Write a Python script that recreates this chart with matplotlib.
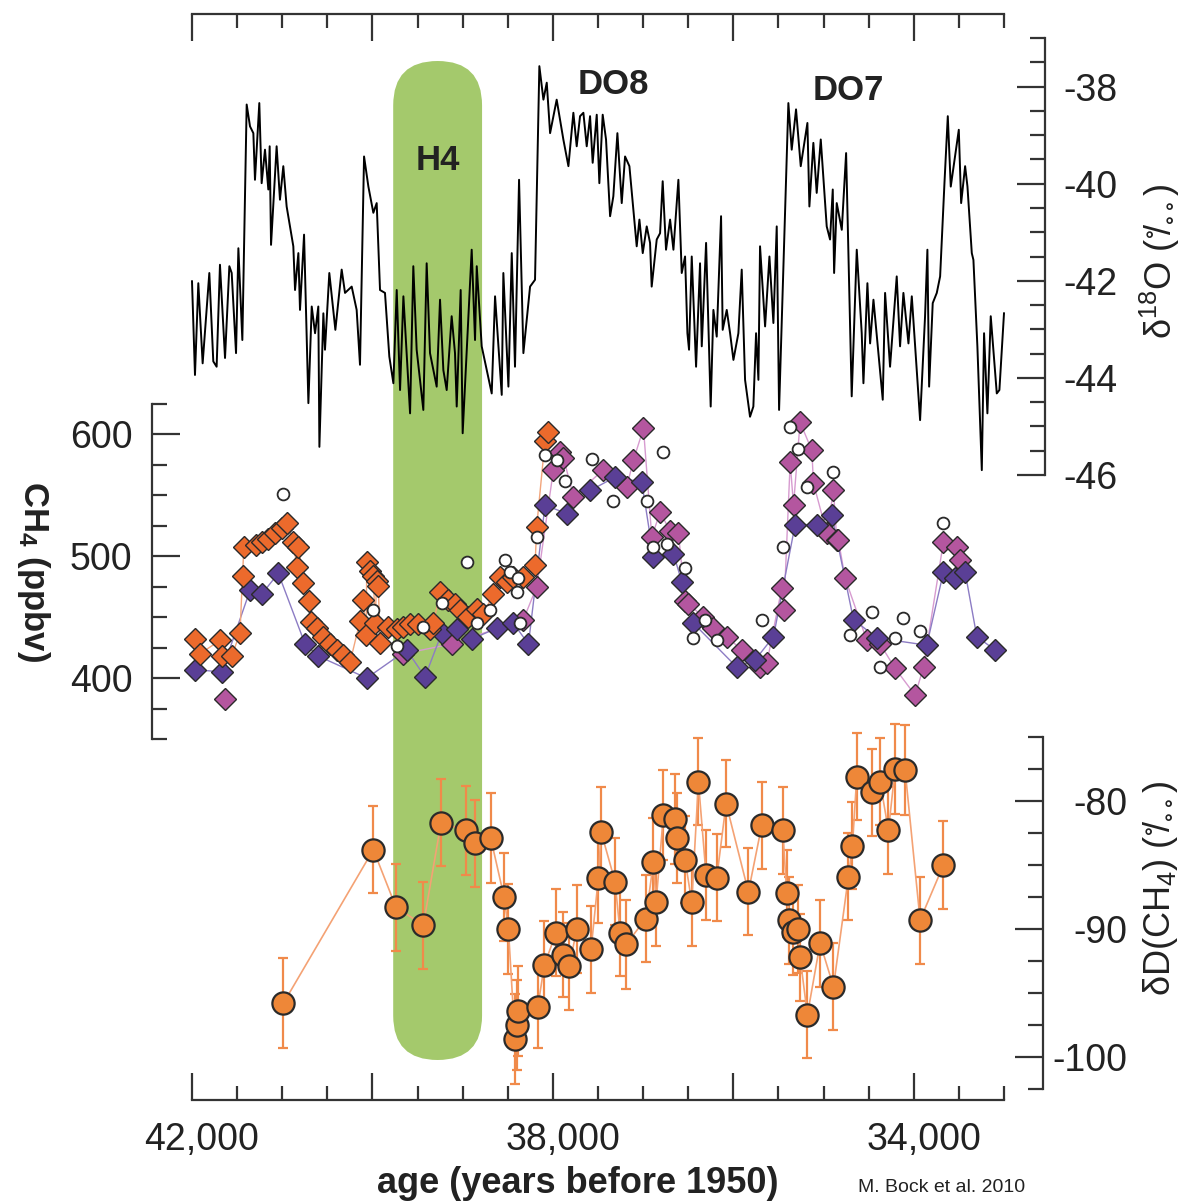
import numpy as np
import matplotlib
matplotlib.use('Agg')
import matplotlib.pyplot as plt
from matplotlib.patches import FancyBboxPatch
from matplotlib.ticker import MultipleLocator
from matplotlib.transforms import IdentityTransform, ScaledTranslation

plt.rcParams['font.family'] = ['Liberation Sans', 'DejaVu Sans']
plt.rcParams['mathtext.default'] = 'regular'
plt.rcParams['axes.unicode_minus'] = False

# ── NGRIP d18O (per mil) ──────────────────────────────────────────────────────
D18O_AGE = [
    42000, 41967, 41930, 41882, 41808, 41764, 41727, 41690, 41634, 41586, 41560, 41512, 41486, 41442,
    41394, 41357, 41320, 41302, 41254, 41228, 41191, 41154, 41139, 41124, 41062, 41025, 40988, 40951,
    40914, 40877, 40858, 40821, 40803, 40758, 40736, 40710, 40673, 40636, 40600, 40588, 40544, 40526,
    40478, 40411, 40341, 40304, 40230, 40175, 40138, 40093, 40045, 39990, 39953, 39916, 39861, 39813,
    39768, 39731, 39694, 39657, 39583, 39547, 39510, 39436, 39399, 39362, 39288, 39251, 39214, 39177,
    39122, 39085, 39066, 39022, 39000, 38900, 38863, 38844, 38789, 38678, 38641, 38567, 38549, 38493,
    38456, 38420, 38375, 38327, 38253, 38198, 38150, 38105, 38068, 38031, 37958, 37884, 37828, 37773, 37736,
    37699, 37662, 37625, 37588, 37559, 37514, 37485, 37448, 37411, 37366, 37330, 37285, 37237, 37200,
    37152, 37108, 37071, 37041, 37004, 36960, 36923, 36905, 36849, 36812, 36783, 36746, 36701, 36664,
    36609, 36572, 36535, 36509, 36491, 36461, 36413, 36369, 36350, 36302, 36251, 36221, 36184, 36136,
    36118, 36073, 36036, 35999, 35944, 35907, 35870, 35815, 35778, 35748, 35722, 35704, 35648, 35600,
    35556, 35519, 35493, 35390, 35353, 35305, 35253, 35179, 35157, 35113, 35076, 35031, 34965, 34928,
    34898, 34883, 34854, 34798, 34750, 34725, 34688, 34632, 34577, 34558, 34514, 34484, 34447, 34344,
    34318, 34263, 34189, 34152, 34115, 34059, 34022, 33930, 33875, 33849, 33830, 33790, 33745, 33708,
    33660, 33623, 33590, 33501, 33475, 33431, 33405, 33357, 33339, 33295, 33246, 33221, 33184, 33147,
    33080, 33051, 33000,
]
D18O_VAL = [
    -42.01, -43.94, -42.05, -43.70, -41.84, -43.66, -43.77, -41.67, -43.59, -41.70, -41.84, -43.49, -41.33, -43.22,
    -38.37, -38.82, -38.96, -39.92, -38.34, -39.99, -39.30, -40.12, -39.23, -41.26, -39.23, -40.33, -39.64, -40.47,
    -40.88, -41.29, -42.19, -41.43, -42.60, -41.05, -42.67, -44.52, -42.53, -43.08, -42.53, -45.42, -42.67, -43.42,
    -41.84, -43.01, -41.77, -42.25, -42.12, -42.60, -43.73, -39.44, -40.06, -40.60, -40.40, -42.19, -42.25, -43.56,
    -44.11, -42.19, -44.25, -42.32, -44.73, -41.70, -43.42, -44.66, -41.64, -43.49, -44.18, -42.39, -43.84, -44.25,
    -42.73, -43.49, -44.59, -42.19, -45.14, -41.36, -43.22, -41.70, -43.35, -44.32, -42.32, -44.35, -41.84, -44.18,
    -41.43, -43.77, -39.92, -43.49, -42.12, -41.98, -37.58, -38.27, -37.92, -38.96, -38.27, -39.09, -39.64, -38.54, -39.23,
    -38.61, -38.54, -39.23, -38.61, -39.57, -38.58, -39.99, -38.58, -39.09, -40.67, -40.26, -38.96, -40.40, -39.44,
    -39.64, -40.54, -41.29, -40.74, -41.43, -40.88, -41.22, -42.12, -41.15, -41.02, -39.95, -41.36, -40.74, -41.36,
    -39.92, -41.84, -41.50, -43.08, -43.42, -41.50, -43.77, -41.64, -43.35, -41.22, -44.59, -42.60, -43.15, -40.67,
    -43.01, -42.60, -43.08, -43.63, -43.08, -41.77, -44.04, -44.80, -44.59, -43.08, -44.04, -41.29, -42.94, -41.50,
    -42.87, -40.88, -44.66, -38.34, -39.30, -38.47, -39.64, -38.75, -40.47, -39.16, -40.19, -39.09, -40.88, -41.15,
    -40.12, -41.84, -40.40, -40.95, -39.37, -41.43, -44.38, -41.36, -43.08, -44.11, -42.05, -43.29, -42.39, -44.45,
    -42.25, -43.77, -41.91, -43.35, -42.25, -43.29, -42.32, -44.87, -42.73, -41.36, -44.18, -42.46, -42.25, -41.91,
    -39.99, -38.61, -40.06, -38.89, -40.40, -39.64, -40.06, -41.43, -41.57, -43.35, -45.90, -43.08, -44.73, -42.73,
    -44.32, -44.25, -42.67,
]

# ── CH4 (ppbv), four records ──────────────────────────────────────────────────
ORANGE_AGE = [41966, 41911, 41689, 41671, 41560, 41468, 41440, 41425, 41290, 41227,
              41153, 41080, 41006, 40950, 40876, 40839, 40821, 40765, 40700, 40680,
              40618, 40544, 40470, 40396, 40322, 40248, 40137, 40100, 40070, 40063,
              40026, 39990, 39971, 39953, 39935, 39916, 39823, 39731, 39657, 39583,
              39491, 39361, 39324, 39250, 39158, 39084, 39029, 38936, 38844, 38770,
              38659, 38585, 38511, 38438, 38327, 38197, 38180, 38087, 38050]
ORANGE_CH4 = [432, 420, 431, 418, 418, 437, 484, 508, 509, 512,
              514, 519, 523, 527, 512, 491, 508, 478, 463, 446,
              441, 434, 428, 423, 419, 413, 447, 464, 435, 495,
              488, 484, 445, 480, 476, 429, 442, 440, 442, 444,
              444, 440, 445, 471, 464, 461, 456, 450, 457, 453,
              469, 483, 479, 483, 483, 493, 524, 595, 602]

PURPLE_AGE = [41966, 41671, 41357, 41227, 41043, 40747, 40599, 40063, 39620, 39417,
              39232, 39066, 38900, 38622, 38438, 38271, 38087, 37846, 37587, 37310,
              37015, 36885, 36664, 36571, 36442, 35962, 35758, 35555, 35315, 35075,
              34909, 34668, 34410, 33856, 33671, 33543, 33431, 33301, 33098]
PURPLE_CH4 = [407, 405, 472, 469, 486, 428, 418, 400, 423, 401,
              437, 440, 432, 441, 445, 428, 542, 535, 554, 565,
              561, 499, 502, 479, 445, 409, 415, 434, 526, 526,
              534, 448, 433, 427, 487, 482, 487, 434, 423]

MAGENTA_AGE = [41634, 39657, 39121, 38327, 38179, 37994, 37920, 37883, 37772, 37440,
               37181, 37107, 36996, 36904, 36812, 36701, 36608, 36534, 36497, 36331,
               36220, 36073, 35906, 35703, 35629, 35463, 35440, 35370, 35333, 35260,
               35130, 35112, 34964, 34890, 34853, 34835, 34761, 34521, 34373, 34207,
               33985, 33892, 33671, 33523, 33486]
MAGENTA_CH4 = [383, 420, 428, 448, 475, 571, 586, 581, 549, 571,
               557, 579, 605, 516, 536, 521, 519, 463, 461, 450,
               441, 434, 423, 409, 412, 474, 456, 577, 542, 610,
               587, 560, 519, 554, 513, 513, 482, 431, 428, 408,
               386, 409, 512, 508, 497]

OPEN_AGE = [40987, 39990, 39731, 39435, 39232, 38955, 38844, 38696, 38530, 38475,
            38401, 38382, 38360, 38179, 38087, 37957, 37865, 37569, 37329, 36959,
            36885, 36775, 36738, 36534, 36442, 36313, 36183, 35684, 35444, 35370,
            35278, 35186, 34890, 34705, 34465, 34373, 34207, 34114, 33930, 33671]
OPEN_CH4 = [551, 456, 426, 442, 462, 495, 445, 456, 497, 487,
            471, 482, 445, 516, 583, 579, 562, 580, 545, 545,
            508, 586, 510, 490, 433, 448, 431, 448, 508, 606,
            588, 557, 569, 435, 454, 409, 433, 449, 439, 527]

# ── dD(CH4) (per mil) with 1-sigma errors ─────────────────────────────────────
DD_AGE = [40987, 39990, 39739, 39436, 39240, 38963, 38863, 38689, 38541, 38493,
          38420, 38401, 38382, 38168, 38094, 37965, 37884, 37817, 37736, 37577,
          37496, 37466, 37311, 37255, 37189, 36971, 36886, 36856, 36775, 36646,
          36620, 36535, 36461, 36387, 36302, 36184, 36080, 35833, 35685, 35452,
          35408, 35378, 35341, 35279, 35260, 35179, 35038, 34890, 34724, 34680,
          34632, 34466, 34373, 34281, 34207, 34096, 33930, 33671]
DD_VAL = [-95.8, -83.8, -88.3, -89.7, -81.7, -82.3, -83.3, -82.9, -87.5, -90.0,
          -98.6, -97.5, -96.4, -96.1, -92.8, -90.3, -92.0, -92.9, -90.0, -91.6,
          -86.0, -82.4, -86.3, -90.3, -91.2, -89.2, -84.8, -87.9, -81.1, -81.4,
          -82.9, -84.6, -87.9, -78.5, -85.8, -86.0, -80.2, -87.1, -81.9, -82.3,
          -87.2, -89.3, -90.2, -90.0, -92.2, -96.7, -91.1, -94.5, -85.9, -83.5,
          -78.1, -79.3, -78.5, -82.3, -77.5, -77.6, -89.3, -85.0]
DD_ERR = [3.5, 3.4, 3.4, 3.4, 3.4, 3.5, 3.4, 3.5, 3.4, 3.5,
          3.5, 3.5, 3.5, 3.2, 3.4, 3.4, 3.3, 3.4, 3.4, 3.4,
          3.5, 3.5, 3.4, 3.4, 3.5, 3.4, 3.5, 3.4, 3.5, 3.5,
          3.5, 3.4, 3.4, 3.4, 3.5, 3.4, 3.4, 3.4, 3.4, 3.4,
          3.4, 3.4, 3.4, 3.4, 3.4, 3.4, 3.4, 3.4, 3.4, 3.4,
          3.4, 3.4, 3.4, 3.4, 3.5, 3.5, 3.4, 3.4]

H4_SPAN = [39770, 38785]          # Heinrich event 4
AGE_TICKS = [42000, 40000, 38000, 36000, 34000]
AGE_LABELS = ['42,000', '', '38,000', '', '34,000']

# ── layout helpers (pixel boxes, y counted from the top) ──────────────────────
W, H = 1192, 1203
INK = '#333333'


def box(x0, y0, x1, y1):
    return [x0 / W, 1 - y1 / H, (x1 - x0) / W, (y1 - y0) / H]


def fx(x, y):
    return x / W, 1 - y / H


fig = plt.figure(figsize=(W / 100, H / 100), dpi=100, facecolor='white')

# frame carrying the shared age axis (top and bottom)
ax = fig.add_axes(box(192, 14, 1004, 1100))
ax.set_facecolor('none')
ax.set_xlim(42000, 33000)
ax.yaxis.set_visible(False)
for s in ('left', 'right'):
    ax.spines[s].set_visible(False)
for s in ('top', 'bottom'):
    ax.spines[s].set_linewidth(1.6)
    ax.spines[s].set_color(INK)
ax.set_xticks(AGE_TICKS)
ax.set_xticklabels(AGE_LABELS)
ax.xaxis.set_minor_locator(MultipleLocator(500))
ax.tick_params(axis='x', which='both', direction='in', top=True, bottom=True,
               width=1.6, color=INK, labelsize=27, labelcolor='#222', pad=16)
ax.tick_params(axis='x', which='major', length=19.5)
ax.tick_params(axis='x', which='minor', length=10)
shift = ScaledTranslation(10 / 100, 0, fig.dpi_scale_trans)
for lbl in ax.get_xticklabels():
    lbl.set_transform(lbl.get_transform() + shift)


def y_panel(rect, ylim, side, offset, major, minor, pad):
    a = fig.add_axes(rect)
    a.set_facecolor('none')
    a.set_xlim(42000, 33000)
    a.set_ylim(*ylim)
    a.xaxis.set_visible(False)
    for s in ('top', 'bottom', 'left', 'right'):
        a.spines[s].set_visible(s == side)
    a.spines[side].set_position(('axes', offset))
    a.spines[side].set_linewidth(1.6)
    a.spines[side].set_color(INK)
    a.yaxis.set_major_locator(MultipleLocator(major))
    a.yaxis.set_minor_locator(MultipleLocator(minor))
    if side == 'right':
        a.yaxis.tick_right()
    a.tick_params(axis='y', which='both', direction='in', width=1.6, color=INK,
                  labelsize=27, labelcolor='#222', pad=pad)
    a.tick_params(axis='y', which='major', length=20)
    a.tick_params(axis='y', which='minor', length=10.5)
    return a


# ── d18O panel ────────────────────────────────────────────────────────────────
ax_o = y_panel(box(192, 38, 1004, 475), (-46, -37), 'right', 1 + 41 / 812, 2, 0.5, 52)
ax_o.set_yticks([-46, -44, -42, -40, -38])
for lbl in ax_o.get_yticklabels():
    lbl.set_horizontalalignment('right')
ax_o.plot(D18O_AGE, D18O_VAL, color='black', lw=1.4, zorder=3, clip_on=False)

# ── CH4 panel ─────────────────────────────────────────────────────────────────
ax_c = y_panel(box(192, 404, 1004, 739), (350, 625), 'left', -40 / 812, 100, 25, 14)
ax_c.set_yticks([400, 500, 600])


def ch4_series(ages, vals, face, line, z):
    order = np.argsort(ages)[::-1]
    a = np.asarray(ages)[order]
    v = np.asarray(vals)[order]
    # connecting line is broken where the record has a long gap
    cuts = np.where(np.abs(np.diff(a)) > 1200)[0] + 1
    for seg_a, seg_v in zip(np.split(a, cuts), np.split(v, cuts)):
        ax_c.plot(seg_a, seg_v, '-', color=line, lw=1.0, zorder=1, clip_on=False)
    ax_c.plot(a, v, 'D', ms=11.5, mfc=face, mec='#2a2a2a', mew=1.0,
              ls='none', zorder=z, clip_on=False)


ch4_series(MAGENTA_AGE, MAGENTA_CH4, '#b4569f', '#d79bd0', 2)
ch4_series(PURPLE_AGE, PURPLE_CH4, '#5a3f96', '#8c7cc4', 3)
ch4_series(ORANGE_AGE, ORANGE_CH4, '#ec6a2c', '#f2a57c', 4)
ax_c.plot(OPEN_AGE, OPEN_CH4, 'o', ms=8.5, mfc='white', mec='#2a2a2a', mew=1.3,
          ls='none', zorder=5, clip_on=False)

# ── dD(CH4) panel ─────────────────────────────────────────────────────────────
ax_d = y_panel(box(192, 737, 1004, 1089), (-102.5, -75), 'right', 1 + 39 / 812, 10, 2.5, 60.5)
ax_d.set_yticks([-100, -90, -80])
for lbl in ax_d.get_yticklabels():
    lbl.set_horizontalalignment('right')
ax_d.errorbar(DD_AGE, DD_VAL, yerr=DD_ERR, fmt='none', ecolor='#f08a4a',
              elinewidth=1.6, capsize=3.6, capthick=1.6, zorder=2, clip_on=False)
ax_d.plot(DD_AGE, DD_VAL, '-', color='#f4a274', lw=1.2, zorder=2, clip_on=False)
ax_d.plot(DD_AGE, DD_VAL, 'o', ms=16, mfc='#ee8738', mec='#2a2a2a', mew=1.6,
          ls='none', zorder=4, clip_on=False)

# ── H4 band: rounded bar spanning all panels ──────────────────────────────────
bx0 = ax.transData.transform((H4_SPAN[0], 0))[0]
bx1 = ax.transData.transform((H4_SPAN[1], 0))[0]
bw = bx1 - bx0
band = FancyBboxPatch((bx0, H - 1060), bw, 1060 - 61,
                      boxstyle=f'round,pad=0,rounding_size={bw / 2}',
                      transform=IdentityTransform(), facecolor='#a4c96c',
                      edgecolor='none', zorder=-1)
fig.add_artist(band)

# ── labels ────────────────────────────────────────────────────────────────────
fig.text(*fx(1160, 262), r'$\delta^{18}$O ($^{\circ}\!/_{\circ\circ}$)', rotation=90,
         ha='center', va='center', fontsize=26, color='#222')
fig.text(*fx(1160, 888), r'$\delta$D(CH$_4$) ($^{\circ}\!/_{\circ\circ}$)', rotation=90,
         ha='center', va='center', fontsize=26, color='#222')
fig.text(*fx(33, 572), r'CH$_4$ (ppbv)', rotation=-90, ha='center', va='center',
         fontsize=25, fontweight='bold', color='#222')
fig.text(*fx(578, 1193), 'age (years before 1950)', ha='center', va='baseline',
         fontsize=26, fontweight='bold', color='#222')
fig.text(*fx(858, 1192), 'M. Bock et al. 2010', ha='left', va='baseline',
         fontsize=14, color='#222')

for txt, (x, y) in (('DO8', (613, 85)), ('DO7', (848, 90)), ('H4', (438, 160))):
    fig.text(*fx(x, y), txt, ha='center', va='center', fontsize=25,
             fontweight='bold', color='#222')

fig.savefig('out.png', dpi=100, facecolor='white')
